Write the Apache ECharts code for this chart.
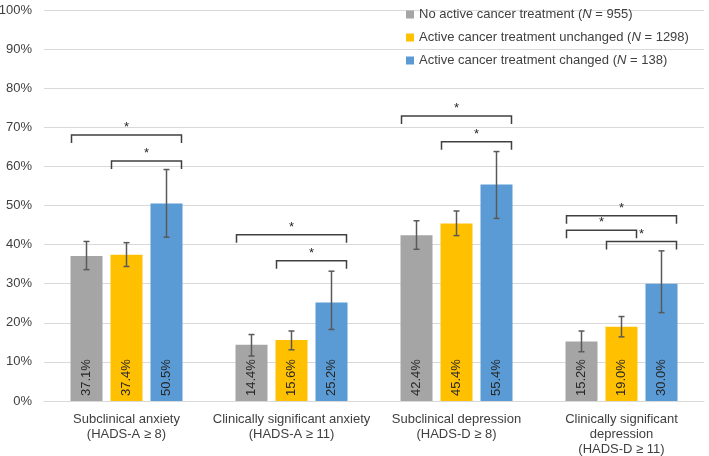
<!DOCTYPE html>
<html>
<head>
<meta charset="utf-8">
<title>HADS</title>
<script src="https://cdn.jsdelivr.net/npm/echarts@6/dist/echarts.min.js"></script>
<style>
  html, body { margin: 0; padding: 0; background: #fff; }
  #main { width: 709px; height: 456px; }
</style>
</head>
<body>
<div id="main"></div>
<script>
/*
 数据
 * */
var categories = [
    'Subclinical anxiety\n(HADS-A \u2265 8)',
    'Clinically significant anxiety\n(HADS-A \u2265 11)',
    'Subclinical depression\n(HADS-D \u2265 8)',
    'Clinically significant\ndepression\n(HADS-D \u2265 11)'
];
var seriesNames = ['No active cancer treatment', 'Active cancer treatment unchanged', 'Active cancer treatment changed'];
var seriesN = [955, 1298, 138];

var noTreatment = [37.1, 14.4, 42.4, 15.2];
var unchanged = [37.4, 15.6, 45.4, 19.0];
var changed = [50.5, 25.2, 55.4, 30.0];

// error bars (low / high)
var noTreatmentLow = [33.6, 11.5, 38.8, 12.6];
var noTreatmentHigh = [40.8, 17.0, 46.1, 17.9];
var unchangedLow = [34.4, 13.1, 42.3, 16.4];
var unchangedHigh = [40.5, 17.9, 48.6, 21.6];
var changedLow = [41.9, 18.3, 46.7, 22.6];
var changedHigh = [59.2, 33.2, 63.8, 38.4];

// significance brackets: [category, from bar, to bar, height]
var brackets = [
    [0, 0, 2, 68.0], [0, 1, 2, 61.4],
    [1, 0, 2, 42.5], [1, 1, 2, 35.9],
    [2, 0, 2, 72.9], [2, 1, 2, 66.3],
    [3, 0, 2, 47.4], [3, 0, 1, 43.7], [3, 1, 2, 40.8]
];

var yTicks = [0, 10, 20, 30, 40, 50, 60, 70, 80, 90, 100];

var colors = ['#a5a5a5', '#ffc000', '#5b9bd5'];
var textColor = '#404040';
var font = 'Liberation Sans, Arial, sans-serif';
var barStep = 40; // bar width 32 + gap 8

var values = [noTreatment, unchanged, changed];
var lows = [noTreatmentLow, unchangedLow, changedLow];
var highs = [noTreatmentHigh, unchangedHigh, changedHigh];

var errorData = [];
for (var s = 0; s < 3; s++) {
    for (var c = 0; c < categories.length; c++) {
        errorData.push([c, s, lows[s][c], highs[s][c]]);
    }
}

var barSeries = values.map(function(v, i) {
    return {
        name: seriesNames[i],
        type: 'bar',
        barWidth: 32,
        barGap: '25%',
        data: v,
        itemStyle: { color: colors[i] },
        label: {
            show: true,
            position: 'insideBottom',
            rotate: 90,
            align: 'left',
            verticalAlign: 'middle',
            distance: 5,
            color: '#262626',
            fontFamily: font,
            fontSize: 13,
            formatter: function(p) { return p.value.toFixed(1) + '%'; }
        },
        z: 2
    };
});

/*
 误差线
 * */
var errorSeries = {
    type: 'custom',
    data: errorData,
    z: 5,
    silent: true,
    renderItem: function(params, api) {
        var off = (api.value(1) - 1) * barStep;
        var lo = api.coord([api.value(0), api.value(2)]);
        var hi = api.coord([api.value(0), api.value(3)]);
        var x = lo[0] + off;
        var style = { stroke: '#595959', lineWidth: 1.5 };
        return {
            type: 'group',
            children: [
                { type: 'line', shape: { x1: x, y1: lo[1], x2: x, y2: hi[1] }, style: style },
                { type: 'line', shape: { x1: x - 3, y1: lo[1], x2: x + 3, y2: lo[1] }, style: style },
                { type: 'line', shape: { x1: x - 3, y1: hi[1], x2: x + 3, y2: hi[1] }, style: style }
            ]
        };
    }
};

/*
 显著性标记
 * */
var bracketSeries = {
    type: 'custom',
    data: brackets,
    z: 6,
    silent: true,
    renderItem: function(params, api) {
        var p = api.coord([api.value(0), api.value(3)]);
        var x1 = p[0] + (api.value(1) - 1) * barStep - 15;
        var x2 = p[0] + (api.value(2) - 1) * barStep + 15;
        var y = p[1];
        return {
            type: 'group',
            children: [
                {
                    type: 'polyline',
                    shape: { points: [[x1, y + 8], [x1, y], [x2, y], [x2, y + 8]] },
                    style: { stroke: '#404040', lineWidth: 1.5, fill: null }
                },
                {
                    type: 'text',
                    style: {
                        x: (x1 + x2) / 2, y: y - 1, text: '*',
                        fill: '#262626', font: '13px ' + font,
                        align: 'center', verticalAlign: 'bottom'
                    }
                }
            ]
        };
    }
};

var chart = echarts.init(document.getElementById('main'));
chart.setOption({
    animation: false,
    color: colors,
    grid: { left: 44, right: 5, top: 10, bottom: 55, outerBoundsMode: 'none' },
    legend: {
        orient: 'vertical',
        left: 401,
        top: 3,
        itemWidth: 8,
        itemHeight: 8,
        itemGap: 10,
        icon: 'rect',
        data: seriesNames,
        formatter: function(name) {
            var i = seriesNames.indexOf(name);
            return '{t|' + name + ' (}{i|N}{t| = ' + seriesN[i] + ')}';
        },
        textStyle: {
            color: textColor,
            fontFamily: font,
            fontSize: 13,
            rich: {
                t: { color: textColor, fontFamily: font, fontSize: 13 },
                i: { color: textColor, fontFamily: font, fontSize: 13, fontStyle: 'italic' }
            }
        }
    },
    xAxis: {
        type: 'category',
        data: categories,
        axisLine: { lineStyle: { color: '#d9d9d9' } },
        axisTick: { show: false },
        axisLabel: {
            interval: 0,
            color: textColor,
            fontFamily: font,
            fontSize: 13,
            lineHeight: 15,
            margin: 11
        }
    },
    yAxis: {
        type: 'value',
        min: yTicks[0],
        max: yTicks[yTicks.length - 1],
        interval: 10,
        axisLine: { show: false },
        axisTick: { show: false },
        splitLine: { lineStyle: { color: '#d9d9d9' } },
        axisLabel: {
            color: textColor,
            fontFamily: font,
            fontSize: 13,
            margin: 12,
            formatter: '{value}%'
        }
    },
    series: barSeries.concat([errorSeries, bracketSeries])
});
</script>
</body>
</html>
